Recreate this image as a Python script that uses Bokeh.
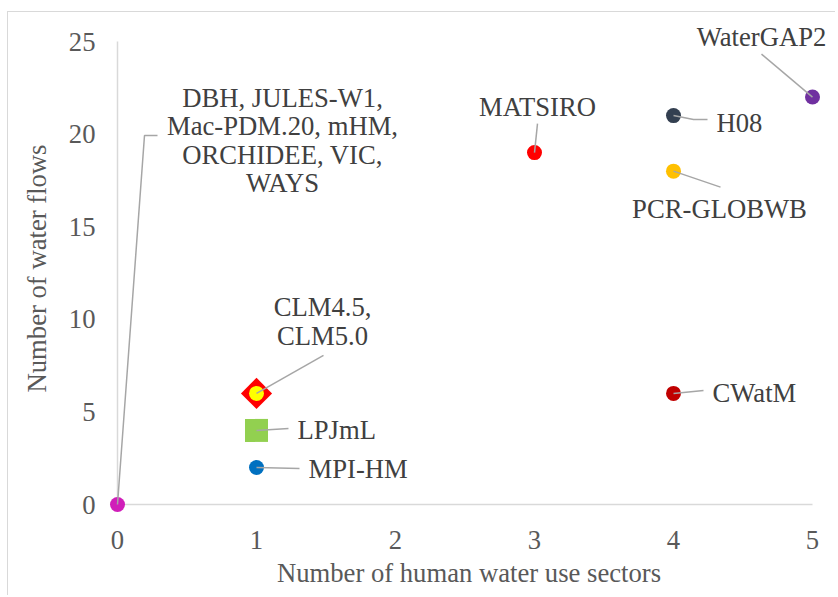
import math
from bokeh.plotting import figure
from bokeh.models import Range1d, FixedTicker
from bokeh.embed import file_html
from bokeh.resources import INLINE
from bokeh.core.properties import value

# ---------------- data ----------------
model_labels = [
    "DBH, JULES-W1,\nMac-PDM.20, mHM,\nORCHIDEE, VIC,\nWAYS",
    "CLM4.5,\nCLM5.0",
    "LPJmL",
    "MPI-HM",
    "MATSIRO",
    "H08",
    "PCR-GLOBWB",
    "WaterGAP2",
    "CWatM",
]
human_use_sectors = [0, 1, 1, 1, 3, 4, 4, 5, 4]
water_flows = [0, 6, 4, 2, 19, 21, 18, 22, 6]
x_tick_values = [0, 1, 2, 3, 4, 5]
y_tick_values = [0, 5, 10, 15, 20, 25]
x_title = "Number of human water use sectors"
y_title = "Number of water flows"

# ---------------- style / layout ----------------
point_colors = ["#D01EB9", "#FF0000", "#92D050", "#0070C0", "#FF0000",
                "#333F50", "#FFC000", "#7030A0", "#C00000"]
inner_color = "#FFFF00"
circle_idx = [0, 3, 4, 5, 6, 7, 8]
square_idx = [2]
diamond_idx = [1]

# label anchor offsets in screen px (dx right, dy down) and alignment
label_offsets = [(165, -364), (66, -72), (41, 0), (52, 2), (3, -46),
                 (43, 7), (46, 38), (-51, -60), (39, 0)]
label_align = ["center", "center", "left", "left", "center",
               "left", "center", "center", "left"]
leader_paths = [
    [(0, 0), (27, -369), (40, -369)],
    [(0, 0), (67, -38)],
    [(0, 0), (32, -2)],
    [(0, 0), (43, 1)],
    [(0, 0), (3, -29)],
    [(0, 0), (20, 4), (34, 4)],
    [(0, 0), (47, 16)],
    [(0, 0), (-51, -43)],
    [(0, 0), (30, -3)],
]

FONT = "Liberation Serif"
FS = "26.67px"
W, H = 828, 584
FL, FR, FT, FB = 95, 2, 8, 80
PX_X = 139.0    # pixels per x unit
PX_Y = 18.52    # pixels per y unit
frame_w = W - FL - FR
frame_h = H - FT - FB
X0 = -14 / PX_X
X1 = X0 + frame_w / PX_X
Y0 = -12 / PX_Y
Y1 = Y0 + frame_h / PX_Y
sx = frame_w / (X1 - X0)
sy = frame_h / (Y1 - Y0)


def shifted(i, dx, dy):
    return human_use_sectors[i] + dx / sx, water_flows[i] - dy / sy


p = figure(width=W, height=H, output_backend="svg", toolbar_location=None,
           x_range=Range1d(X0, X1), y_range=Range1d(Y0, Y1),
           min_border_left=FL, min_border_right=FR,
           min_border_top=FT, min_border_bottom=FB)
p.styles = {"margin-left": "7px", "margin-top": "11px",
            "border-left": "1px solid #d9d9d9", "border-top": "1px solid #d9d9d9"}
p.outline_line_color = None
p.grid.visible = False
p.background_fill_color = "white"
p.border_fill_color = "white"

for ax, bnds, ticks, title, stand, lstand in (
        (p.xaxis[0], (0, 5), x_tick_values, x_title, 14, 6),
        (p.yaxis[0], (0, 25), y_tick_values, y_title, 8, 14)):
    ax.bounds = bnds
    ax.ticker = FixedTicker(ticks=ticks)
    ax.axis_line_color = None
    ax.major_tick_out = 0
    ax.major_tick_in = 0
    ax.minor_tick_out = 0
    ax.minor_tick_in = 0
    ax.major_label_standoff = stand
    ax.major_label_text_font = FONT
    ax.major_label_text_font_size = FS
    ax.major_label_text_color = "#595959"
    ax.axis_label = title
    ax.axis_label_standoff = lstand
    ax.axis_label_text_font = FONT
    ax.axis_label_text_font_size = FS
    ax.axis_label_text_font_style = "normal"
    ax.axis_label_text_color = "#595959"
p.yaxis[0].major_label_orientation = "horizontal"

# axis lines at the data origin
p.segment(x0=[x_tick_values[0], x_tick_values[0]], y0=[y_tick_values[0], y_tick_values[0]],
          x1=[x_tick_values[-1], x_tick_values[0]], y1=[y_tick_values[0], y_tick_values[-1]],
          line_color="#D9D9D9", line_width=1.5)

# markers
p.scatter([human_use_sectors[i] for i in diamond_idx], [water_flows[i] for i in diamond_idx],
          marker="square", angle=math.pi / 4, size=22,
          fill_color=[point_colors[i] for i in diamond_idx], line_color=None)
p.scatter([human_use_sectors[i] for i in diamond_idx], [water_flows[i] for i in diamond_idx],
          marker="circle", size=15, fill_color=inner_color, line_color=None)
p.scatter([human_use_sectors[i] for i in square_idx], [water_flows[i] for i in square_idx],
          marker="square", size=23,
          fill_color=[point_colors[i] for i in square_idx], line_color=None)
p.scatter([human_use_sectors[i] for i in circle_idx], [water_flows[i] for i in circle_idx],
          marker="circle", size=15,
          fill_color=[point_colors[i] for i in circle_idx], line_color=None)

# leader lines
lx, ly = [], []
for i, path in enumerate(leader_paths):
    pts = [shifted(i, dx, dy) for dx, dy in path]
    lx.append([q[0] for q in pts])
    ly.append([q[1] for q in pts])
p.multi_line(xs=lx, ys=ly, line_color="#A6A6A6", line_width=1.5)

# labels
for align in ("center", "left"):
    idx = [i for i in range(len(model_labels)) if label_align[i] == align]
    pos = [shifted(i, *label_offsets[i]) for i in idx]
    p.text(x=[q[0] for q in pos], y=[q[1] for q in pos],
           text=[model_labels[i] for i in idx],
           text_align=align, text_baseline="middle",
           text_font=value(FONT), text_font_size=FS,
           text_color="#404040", text_line_height=0.95)

open("out.html", "w").write(file_html(p, INLINE))
